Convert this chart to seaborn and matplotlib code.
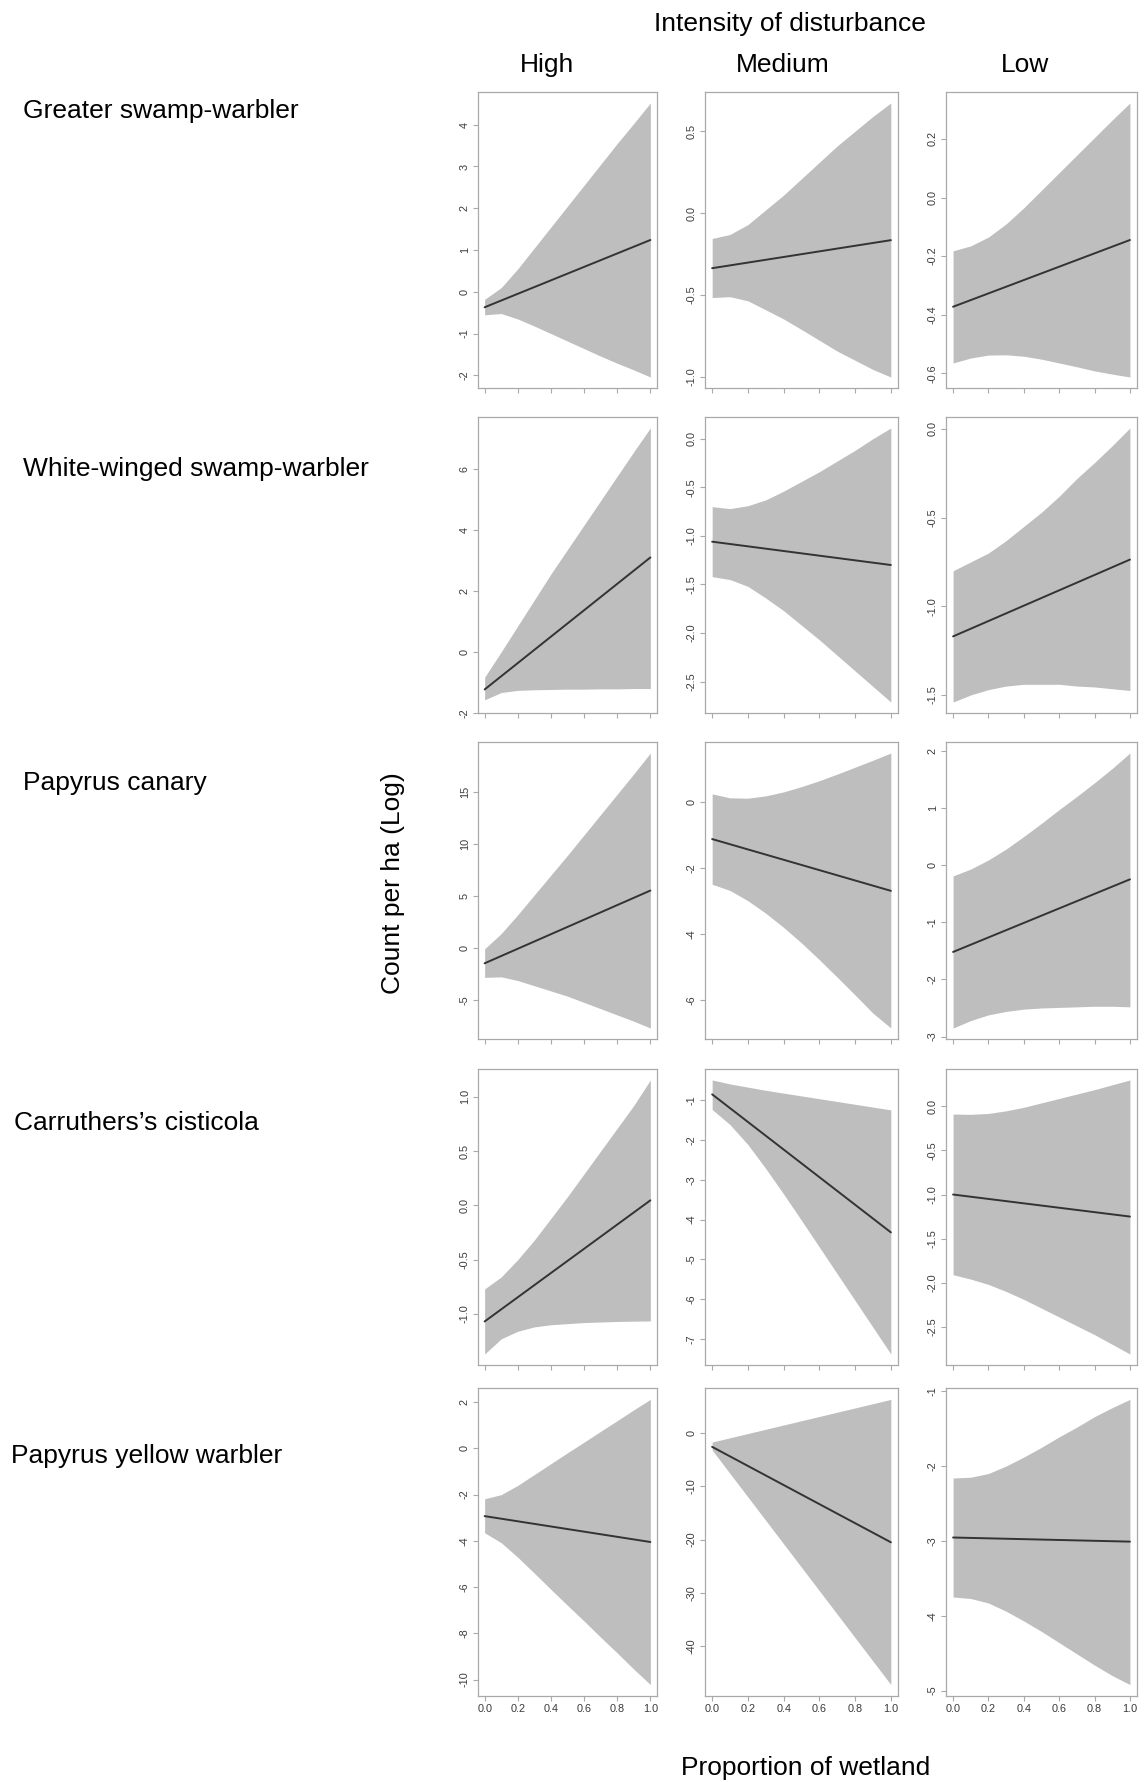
import matplotlib
matplotlib.use("Agg")
import matplotlib.pyplot as plt
import numpy as np
import pandas as pd
import seaborn as sns

# ---------------------------------------------------------------------------
# Data: predicted log count per ha against proportion of wetland,
# with confidence band, for each species and disturbance intensity.
# ---------------------------------------------------------------------------
species = [
    "Greater swamp-warbler",
    "White-winged swamp-warbler",
    "Papyrus canary",
    "Carruthers\u2019s cisticola",
    "Papyrus yellow warbler",
]
disturbance = ["High", "Medium", "Low"]

wetland = [0.0, 0.1, 0.2, 0.3, 0.4, 0.5, 0.6, 0.7, 0.8, 0.9, 1.0]
x_ticks = [0.0, 0.2, 0.4, 0.6, 0.8, 1.0]

# fitted line: value at wetland = 0 and wetland = 1 (High, Medium, Low)
gsw_fit = [[-0.37, 1.24], [-0.336, -0.165], [-0.373, -0.145]]
gsw_upper = [
    [-0.18, 0.10, 0.55, 1.05, 1.55, 2.05, 2.55, 3.05, 3.55, 4.03, 4.52],
    [-0.155, -0.13, -0.07, 0.02, 0.11, 0.21, 0.31, 0.41, 0.50, 0.59, 0.672],
    [-0.182, -0.165, -0.135, -0.09, -0.035, 0.025, 0.085, 0.145, 0.205, 0.265, 0.323],
]
gsw_lower = [
    [-0.55, -0.52, -0.65, -0.82, -1.0, -1.18, -1.36, -1.54, -1.71, -1.87, -2.04],
    [-0.515, -0.51, -0.535, -0.59, -0.646, -0.71, -0.776, -0.842, -0.898, -0.954, -1.0],
    [-0.565, -0.548, -0.538, -0.537, -0.542, -0.552, -0.565, -0.578, -0.592, -0.603, -0.613],
]
gsw_yticks = [[-2, -1, 0, 1, 2, 3, 4], [-1.0, -0.5, 0.0, 0.5], [-0.6, -0.4, -0.2, 0.0, 0.2]]

wws_fit = [[-1.23, 3.09], [-1.06, -1.30], [-1.17, -0.737]]
wws_upper = [
    [-0.83, 0.0, 0.85, 1.7, 2.55, 3.35, 4.15, 4.95, 5.75, 6.55, 7.33],
    [-0.70, -0.72, -0.69, -0.63, -0.54, -0.44, -0.34, -0.23, -0.12, 0.0, 0.11],
    [-0.80, -0.75, -0.70, -0.63, -0.55, -0.47, -0.38, -0.28, -0.19, -0.095, 0.005],
]
wws_lower = [
    [-1.57, -1.33, -1.26, -1.24, -1.23, -1.22, -1.22, -1.21, -1.21, -1.20, -1.20],
    [-1.42, -1.45, -1.52, -1.64, -1.77, -1.92, -2.07, -2.23, -2.39, -2.55, -2.71],
    [-1.54, -1.50, -1.47, -1.45, -1.44, -1.44, -1.44, -1.45, -1.455, -1.465, -1.475],
]
wws_yticks = [[-2, 0, 2, 4, 6], [-2.5, -2.0, -1.5, -1.0, -0.5, 0.0], [-1.5, -1.0, -0.5, 0.0]]

pc_fit = [[-1.45, 5.52], [-1.11, -2.68], [-1.52, -0.25]]
pc_upper = [
    [-0.06, 1.4, 3.2, 5.1, 7.0, 8.9, 10.85, 12.8, 14.75, 16.7, 18.7],
    [0.26, 0.14, 0.13, 0.2, 0.32, 0.48, 0.66, 0.86, 1.07, 1.28, 1.50],
    [-0.19, -0.07, 0.09, 0.28, 0.50, 0.73, 0.97, 1.20, 1.44, 1.69, 1.96],
]
pc_lower = [
    [-2.8, -2.75, -3.1, -3.6, -4.1, -4.6, -5.2, -5.8, -6.4, -7.0, -7.65],
    [-2.48, -2.67, -2.98, -3.36, -3.79, -4.26, -4.77, -5.30, -5.84, -6.39, -6.84],
    [-2.85, -2.72, -2.62, -2.56, -2.52, -2.50, -2.49, -2.48, -2.47, -2.47, -2.48],
]
pc_yticks = [[-5, 0, 5, 10, 15], [-6, -4, -2, 0], [-3, -2, -1, 0, 1, 2]]

cc_fit = [[-1.07, 0.046], [-0.86, -4.32], [-1.0, -1.25]]
cc_upper = [
    [-0.77, -0.66, -0.50, -0.32, -0.12, 0.08, 0.29, 0.50, 0.71, 0.92, 1.155],
    [-0.5, -0.6, -0.68, -0.76, -0.83, -0.9, -0.97, -1.04, -1.11, -1.18, -1.25],
    [-0.087, -0.09, -0.08, -0.05, -0.01, 0.04, 0.09, 0.14, 0.19, 0.245, 0.30],
]
cc_lower = [
    [-1.37, -1.23, -1.16, -1.12, -1.10, -1.09, -1.08, -1.075, -1.07, -1.067, -1.065],
    [-1.24, -1.62, -2.12, -2.72, -3.36, -4.02, -4.69, -5.36, -6.03, -6.70, -7.37],
    [-1.91, -1.96, -2.02, -2.10, -2.19, -2.29, -2.39, -2.49, -2.59, -2.70, -2.81],
]
cc_yticks = [[-1.0, -0.5, 0.0, 0.5, 1.0], [-7, -6, -5, -4, -3, -2, -1],
             [-2.5, -2.0, -1.5, -1.0, -0.5, 0.0]]

pyw_fit = [[-2.93, -4.05], [-2.6, -20.5], [-2.955, -3.01]]
pyw_upper = [
    [-2.18, -2.0, -1.6, -1.13, -0.66, -0.19, 0.27, 0.74, 1.20, 1.67, 2.12],
    [-1.7, -0.9, -0.1, 0.7, 1.5, 2.3, 3.1, 3.9, 4.7, 5.5, 6.3],
    [-2.16, -2.15, -2.10, -2.00, -1.88, -1.75, -1.61, -1.48, -1.34, -1.22, -1.11],
]
pyw_lower = [
    [-3.65, -4.08, -4.71, -5.40, -6.10, -6.79, -7.47, -8.17, -8.85, -9.55, -10.22],
    [-3.2, -7.6, -12.0, -16.4, -20.8, -25.2, -29.6, -34.0, -38.4, -42.8, -47.2],
    [-3.75, -3.77, -3.83, -3.94, -4.07, -4.21, -4.36, -4.51, -4.66, -4.80, -4.92],
]
pyw_yticks = [[-10, -8, -6, -4, -2, 0, 2], [-40, -30, -20, -10, 0], [-5, -4, -3, -2, -1]]

fits = [gsw_fit, wws_fit, pc_fit, cc_fit, pyw_fit]
uppers = [gsw_upper, wws_upper, pc_upper, cc_upper, pyw_upper]
lowers = [gsw_lower, wws_lower, pc_lower, cc_lower, pyw_lower]
yticks = [gsw_yticks, wws_yticks, pc_yticks, cc_yticks, pyw_yticks]

# ---------------------------------------------------------------------------
# Layout (pixel boxes of the panel frames on a 1145 x 1782 canvas)
# ---------------------------------------------------------------------------
W, H = 1145, 1782
col_px = [(478, 657), (705, 898), (946, 1137)]
row_px = [(92, 388), (417, 713), (742, 1039), (1069, 1365), (1388, 1696)]

FILL = "#bebebe"
LINE = "#333333"
FRAME = "#a9a9a9"
TICKLAB = "#3a3a3a"

sns.set_theme(style="white")
plt.rcParams["font.family"] = ["Liberation Sans", "DejaVu Sans"]
plt.rcParams["axes.unicode_minus"] = False

fig = plt.figure(figsize=(W / 100, H / 100), dpi=100)


def fmt_ticks(vals):
    if all(float(v).is_integer() for v in vals):
        return [f"{int(v)}" for v in vals]
    return [f"{v:.1f}" for v in vals]


for r in range(len(species)):
    for c in range(len(disturbance)):
        x0, x1 = col_px[c]
        y0, y1 = row_px[r]
        ax = fig.add_axes([x0 / W, 1 - y1 / H, (x1 - x0) / W, (y1 - y0) / H])

        band = pd.DataFrame({"wetland": wetland,
                             "lower": lowers[r][c],
                             "upper": uppers[r][c]})
        line = pd.DataFrame({"wetland": [0.0, 1.0], "count": fits[r][c]})

        ax.fill_between(band["wetland"], band["lower"], band["upper"],
                        color=FILL, linewidth=0, zorder=1)
        sns.lineplot(data=line, x="wetland", y="count", ax=ax,
                     color=LINE, linewidth=1.4, zorder=2)

        lo = min(band["lower"].min(), line["count"].min())
        hi = max(band["upper"].max(), line["count"].max())
        pad = 0.04 * (hi - lo)
        ax.set_ylim(lo - pad, hi + pad)
        ax.set_xlim(-0.04, 1.04)

        ax.set_xlabel("")
        ax.set_ylabel("")
        ax.set_xticks(x_ticks)
        if r == len(species) - 1:
            ax.set_xticklabels([f"{v:.1f}" for v in x_ticks])
        else:
            ax.set_xticklabels([])
        ax.set_yticks(yticks[r][c])
        ax.set_yticklabels(fmt_ticks(yticks[r][c]), rotation=90, va="center")

        ax.tick_params(axis="both", which="both", direction="out", length=3.5,
                       width=0.8, color=FRAME, labelsize=7.8, labelcolor=TICKLAB,
                       pad=2.5, bottom=True, left=True)
        for sp in ax.spines.values():
            sp.set_color(FRAME)
            sp.set_linewidth(0.9)
        ax.set_facecolor("white")

# Column headers and species labels
TXT = 19
fig.text(790 / W, 1 - 24 / H, "Intensity of disturbance", ha="center", va="center",
         fontsize=TXT, color="black")
for name, cx in zip(disturbance, [547, 783, 1025]):
    fig.text(cx / W, 1 - 65 / H, name, ha="center", va="center", fontsize=TXT, color="black")

for name, (lx, ly) in zip(species, [(23, 111), (23, 469), (23, 783), (14, 1123), (11, 1456)]):
    fig.text(lx / W, 1 - ly / H, name, ha="left", va="center", fontsize=TXT, color="black")

fig.text(393 / W, 1 - 883 / H, "Count per ha (Log)", ha="center", va="center",
         rotation=90, fontsize=TXT, color="black")
fig.text(806 / W, 1 - 1768 / H, "Proportion of wetland", ha="center", va="center",
         fontsize=TXT, color="black")

fig.savefig("out.png", dpi=100, facecolor="white")
